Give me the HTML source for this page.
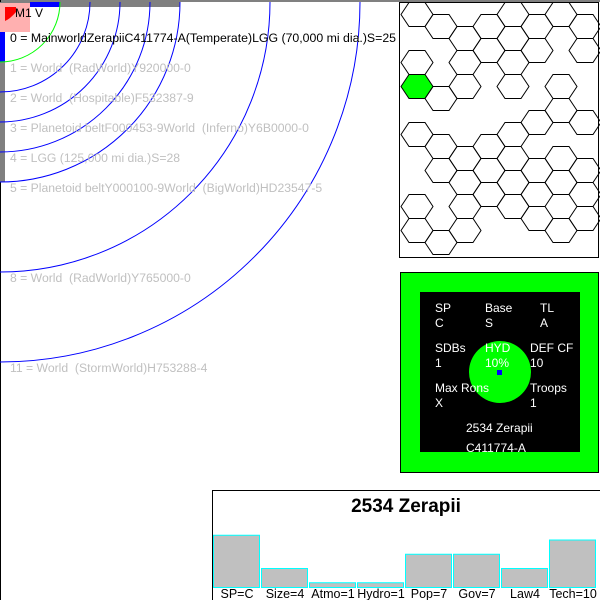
<!DOCTYPE html>
<html><head><meta charset="utf-8"><style>
html,body{margin:0;padding:0;background:#fff;width:600px;height:600px;overflow:hidden}
svg{display:block;font-family:"Liberation Sans",sans-serif}
text{white-space:pre}
</style></head><body>
<svg id="root" width="600" height="600" viewBox="0 0 600 600">
<g id="orbits">
<rect x="0" y="0" width="600" height="2" fill="#808080"/>
<line x1="0.5" y1="0" x2="0.5" y2="600" stroke="#000"/>
</g>
<g id="hexes"></g>
<g>
<rect x="400.5" y="272.5" width="198" height="200" fill="#00ff00" stroke="#000"/>
<rect x="420" y="292" width="160" height="160" fill="#000"/>
<circle cx="500" cy="372" r="31" fill="#00ff00"/>
<rect x="497" y="370" width="5" height="5" fill="#0000ff"/>
<g fill="#fff" font-size="12">
<text x="435" y="312">SP</text>
<text x="435" y="327">C</text>
<text x="485" y="312">Base</text>
<text x="485" y="327">S</text>
<text x="540" y="312">TL</text>
<text x="540" y="327">A</text>
<text x="435" y="352">SDBs</text>
<text x="435" y="367">1</text>
<text x="485" y="352">HYD</text>
<text x="485" y="367">10%</text>
<text x="530" y="352">DEF CF</text>
<text x="530" y="367">10</text>
<text x="435" y="392">Max Rons</text>
<text x="435" y="407">X</text>
<text x="530" y="392">Troops</text>
<text x="530" y="407">1</text>
<text x="466" y="432">2534 Zerapii</text>
<text x="466" y="452">C411774-A</text>
</g>
<rect x="420" y="452" width="160" height="10" fill="#00ff00"/>
</g>
<g>
<rect x="212.5" y="490.5" width="390" height="112" fill="#fff" stroke="#000"/>
<text x="406" y="512" text-anchor="middle" font-size="19" font-weight="bold">2534 Zerapii</text>
<g id="bars"></g>
</g>
</svg>
<script>
const NS='http://www.w3.org/2000/svg';
function mk(t,a,p){const e=document.createElementNS(NS,t);for(const k in a)e.setAttribute(k,a[k]);p.appendChild(e);return e;}
const orbitRadii=[60,90,120,150,180,270,360];
const orbitLabels=["0 = MainworldZerapiiC411774-A(Temperate)LGG (70,000 mi dia.)S=25","1 = World  (RadWorld)Y920000-0","2 = World  (Hospitable)F532387-9","3 = Planetoid beltF000453-9World  (Inferno)Y6B0000-0","4 = LGG (125,000 mi dia.)S=28","5 = Planetoid beltY000100-9World  (BigWorld)HD23547-5","8 = World  (RadWorld)Y765000-0","11 = World  (StormWorld)H753288-4"];
const orbitLabelSlots=[0,1,2,3,4,5,8,11];
const og=document.getElementById('orbits');
let e;
e=mk('rect',{x:0,y:2,width:180,height:5,fill:'#808080'},og);

e=mk('rect',{x:30,y:2,width:30,height:5,fill:'#0000ff'},og);

e=mk('rect',{x:0,y:2,width:5,height:180,fill:'#808080'},og);

e=mk('rect',{x:0,y:32,width:5,height:30,fill:'#0000ff'},og);

e=mk('rect',{x:0,y:3,width:30,height:29,fill:'#ffb0b0'},og);

e=mk('path',{d:'M5 7 H16 V12 Q10 19 5 21 Z',fill:'#ff0000'},og);

orbitRadii.forEach((r,i)=>{
  const a=mk('path',{d:`M${r} 2 A${r} ${r} 0 0 1 0 ${r+2}`,fill:'none',stroke:i===0?'#00ff00':'#0000ff','stroke-width':1},og);
  
  
});
e=mk('text',{x:15,y:17,'font-size':12},og);e.textContent='M1 V';

orbitLabels.forEach((s,i)=>{
  const n=orbitLabelSlots[i];
  const attrs={x:10,y:42+30*n,'font-size':12.2,fill:i===0?'#000':'#c0c0c0'};
  if(i===0){attrs.textLength=386;attrs.lengthAdjust='spacingAndGlyphs';}
  const t=mk('text',attrs,og);
  t.textContent=s;
  
  
});
const hg=document.getElementById('hexes');
e=mk('rect',{x:399.5,y:2.5,width:199,height:255,fill:'#fff',stroke:'#000'},hg);

const hexCols=[[0,2,3,5,8,9],[0,3,5,6,9],[1,2,3,6,7,8,9],[0,1,5,6,7],[0,1,2,3,5,6,7,8],[0,1,4,6,7,8],[0,3,4,6,7,9],[0,1,4,6,7,8]];
const greenHex=[0,3];
hexCols.forEach((rows,c)=>{
  rows.forEach(r=>{
    const cx=417+24*c, cy=(c%2?26.5:14.5)+24*r;
    const pts=[[cx-16,cy],[cx-8,cy-12],[cx+8,cy-12],[cx+16,cy],[cx+8,cy+12],[cx-8,cy+12]].map(p=>p.join(',')).join(' ');
    const g=(c===greenHex[0]&&r===greenHex[1]);
    const h=mk('polygon',{points:pts,fill:g?'#00ff00':'none',stroke:'#000','stroke-width':1},hg);
    
    
  });
});
const barLabels=["SP=C","Size=4","Atmo=1","Hydro=1","Pop=7","Gov=7","Law4","Tech=10"];
const barValues=[11,4,1,1,7,7,4,10];
const bg=document.getElementById('bars');
const base=587, unit=4.75;
barValues.forEach((v,i)=>{
  const x=213+48*i, h=v*unit;
  const b=mk('rect',{x:x+0.5,y:base-h+0.5,width:46,height:h,fill:'#c0c0c0',stroke:'#00ffff'},bg);
  
  
  const t=mk('text',{x:x+24,y:598,'text-anchor':'middle','font-size':12.5},bg);
  t.textContent=barLabels[i];
  
  
});
</script>
</body></html>
